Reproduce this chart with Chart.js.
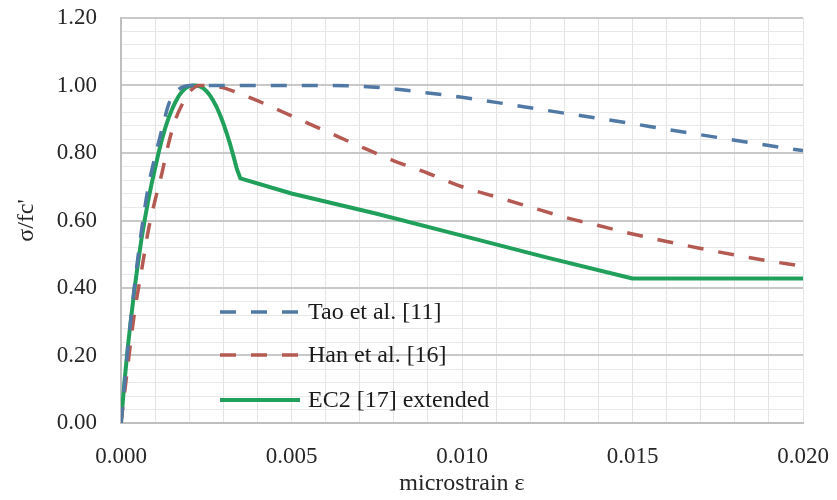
<!DOCTYPE html>
<html>
<head>
<meta charset="utf-8">
<script src="https://cdn.jsdelivr.net/npm/chart.js@4.4.1/dist/chart.umd.min.js"></script>
<style>
    html, body { margin: 0; padding: 0; background: #fff; }
</style>
</head>
<body>
<canvas id="stressChart" width="837" height="500"></canvas>
<script>
// Tao et al. [11]
const taoStrain = [0, 0.0002, 0.0004, 0.0006, 0.0008, 0.0010, 0.0012, 0.0014, 0.0016, 0.0018, 0.0020,
    0.0030, 0.0040, 0.0050, 0.0060, 0.0070, 0.0080, 0.0090, 0.0100, 0.0110, 0.0120, 0.0130, 0.0140,
    0.0150, 0.0160, 0.0170, 0.0180, 0.0190, 0.0200];
const taoStress = [0, 0.22, 0.41, 0.57, 0.70, 0.79, 0.87, 0.945, 0.98, 0.995, 1.0,
    1.0, 1.0, 1.0, 1.0, 0.998, 0.99, 0.978, 0.965, 0.95, 0.934, 0.918, 0.903,
    0.887, 0.870, 0.854, 0.838, 0.822, 0.807];

// Han et al. [16]
const hanStrain = [0, 0.0002, 0.0004, 0.0006, 0.0008, 0.0010, 0.0012, 0.0014, 0.0016, 0.0018, 0.0020,
    0.0023, 0.0030, 0.0035, 0.0040, 0.0050, 0.0060, 0.0070, 0.0080, 0.0090, 0.0100, 0.0110, 0.0120,
    0.0130, 0.0140, 0.0150, 0.0160, 0.0170, 0.0180, 0.0190, 0.0200];
const hanStress = [0, 0.17, 0.33, 0.45, 0.57, 0.66, 0.74, 0.83, 0.90, 0.945, 0.98,
    1.0, 0.993, 0.975, 0.955, 0.91, 0.865, 0.82, 0.777, 0.74, 0.70, 0.67, 0.64,
    0.61, 0.585, 0.56, 0.538, 0.517, 0.498, 0.48, 0.465];

// EC2 [17] extended
const ec2Strain = [0, 0.0001, 0.0002, 0.0003, 0.0004, 0.0005, 0.0006, 0.0007, 0.0008, 0.0009, 0.0010,
    0.0011, 0.0012, 0.0013, 0.0014, 0.0015, 0.0016, 0.0017, 0.0018, 0.0019, 0.0020,
    0.0021, 0.0022, 0.0023, 0.0024, 0.0025, 0.0026, 0.0027, 0.0028, 0.0029, 0.0030,
    0.0031, 0.0032, 0.0033, 0.0034, 0.0035, 0.0050, 0.0075, 0.0100, 0.0125, 0.0150, 0.0200];
const ec2Stress = [0, 0.12, 0.225, 0.315, 0.40, 0.475, 0.545, 0.605, 0.66, 0.71, 0.755,
    0.80, 0.84, 0.875, 0.905, 0.93, 0.952, 0.97, 0.983, 0.993, 0.998,
    1.0, 1.0, 0.998, 0.993, 0.984, 0.972, 0.956, 0.937, 0.914, 0.888,
    0.858, 0.826, 0.79, 0.752, 0.725, 0.68, 0.62, 0.555, 0.49, 0.428, 0.428];

const seriesNames = ["Tao et al. [11]", "Han et al. [16]", "EC2 [17] extended"];
const seriesColors = ["#5079a5", "#b55a52", "#21a05c"];

const xTickStep = 0.001;
const yTickStep = 0.04;

const SERIF = "'Liberation Serif', 'Times New Roman', serif";

const toPoints = (xs, ys) => xs.map((x, i) => ({ x, y: ys[i] }));

// legend drawn inside the plot area, as in the original
const insideLegend = {
    id: "insideLegend",
    afterDatasetsDraw(chart) {
        const { ctx, chartArea } = chart;
        const x0 = chartArea.left + 99;
        const rowY = [chartArea.top + 294, chartArea.top + 337, chartArea.top + 382];
        ctx.save();
        chart.data.datasets.forEach((ds, i) => {
            const y = rowY[i];
            ctx.beginPath();
            ctx.setLineDash(ds.borderDash || []);
            ctx.lineWidth = ds.borderWidth;
            ctx.strokeStyle = ds.borderColor;
            ctx.moveTo(x0, y);
            ctx.lineTo(x0 + 80, y);
            ctx.stroke();
            ctx.setLineDash([]);
            ctx.fillStyle = "#1a1a1a";
            ctx.font = `24px ${SERIF}`;
            ctx.textBaseline = "middle";
            ctx.textAlign = "left";
            ctx.fillText(ds.label, x0 + 88, y + 1);
        });
        ctx.restore();
    }
};

const isMultiple = (v, step) => Math.abs(v / step - Math.round(v / step)) < 1e-6;

new Chart(document.getElementById("stressChart"), {
    type: "scatter",
    data: {
        datasets: [
            { label: seriesNames[0], data: toPoints(taoStrain, taoStress), borderColor: seriesColors[0], borderWidth: 3.5, borderDash: [16, 15], cubicInterpolationMode: "monotone" },
            { label: seriesNames[1], data: toPoints(hanStrain, hanStress), borderColor: seriesColors[1], borderWidth: 3.5, borderDash: [16, 15], cubicInterpolationMode: "monotone" },
            { label: seriesNames[2], data: toPoints(ec2Strain, ec2Stress), borderColor: seriesColors[2], borderWidth: 4, tension: 0, borderJoinStyle: "round" }
        ].map(ds => ({ ...ds, showLine: true, pointRadius: 0, fill: false, borderCapStyle: "butt" }))
    },
    options: {
        responsive: false,
        animation: false,
        layout: { padding: { top: 18, right: 34, left: 0, bottom: 0 } },
        plugins: { legend: { display: false }, tooltip: { enabled: false } },
        scales: {
            x: {
                type: "linear",
                min: 0,
                max: 0.02,
                afterFit: (s) => { s.height = 77; s.paddingLeft = 0; s.paddingRight = 0; },
                grid: { color: "#e4e4e4", lineWidth: 1, drawTicks: false },
                border: { color: "#bfbfbf", width: 2 },
                ticks: {
                    stepSize: xTickStep,
                    autoSkip: false,
                    maxTicksLimit: 100,
                    maxRotation: 0,
                    padding: 20,
                    color: "#262626",
                    font: { family: SERIF, size: 23 },
                    callback: (v) => isMultiple(v, 0.005) ? v.toFixed(3) : ""
                },
                title: {
                    display: true,
                    text: "microstrain ε",
                    color: "#262626",
                    font: { family: SERIF, size: 24 },
                    padding: { top: 0, bottom: 2 }
                }
            },
            y: {
                min: 0,
                max: 1.2,
                afterFit: (s) => { s.width = 121; s.paddingTop = 0; s.paddingBottom = 0; },
                grid: {
                    color: (c) => isMultiple(c.tick.value, 0.2) ? "#c9c9c9" : "#e8e8e8",
                    lineWidth: (c) => isMultiple(c.tick.value, 0.2) ? 2 : 1,
                    drawTicks: false
                },
                border: { color: "#bfbfbf", width: 2 },
                ticks: {
                    stepSize: yTickStep,
                    autoSkip: false,
                    maxTicksLimit: 100,
                    padding: 24,
                    color: "#262626",
                    font: { family: SERIF, size: 23 },
                    callback: (v) => isMultiple(v, 0.2) ? v.toFixed(2) : ""
                },
                title: {
                    display: true,
                    text: "σ/fc'",
                    color: "#262626",
                    font: { family: SERIF, size: 24 },
                    padding: { top: 12, bottom: 0 }
                }
            }
        }
    },
    plugins: [insideLegend]
});
</script>
</body>
</html>
